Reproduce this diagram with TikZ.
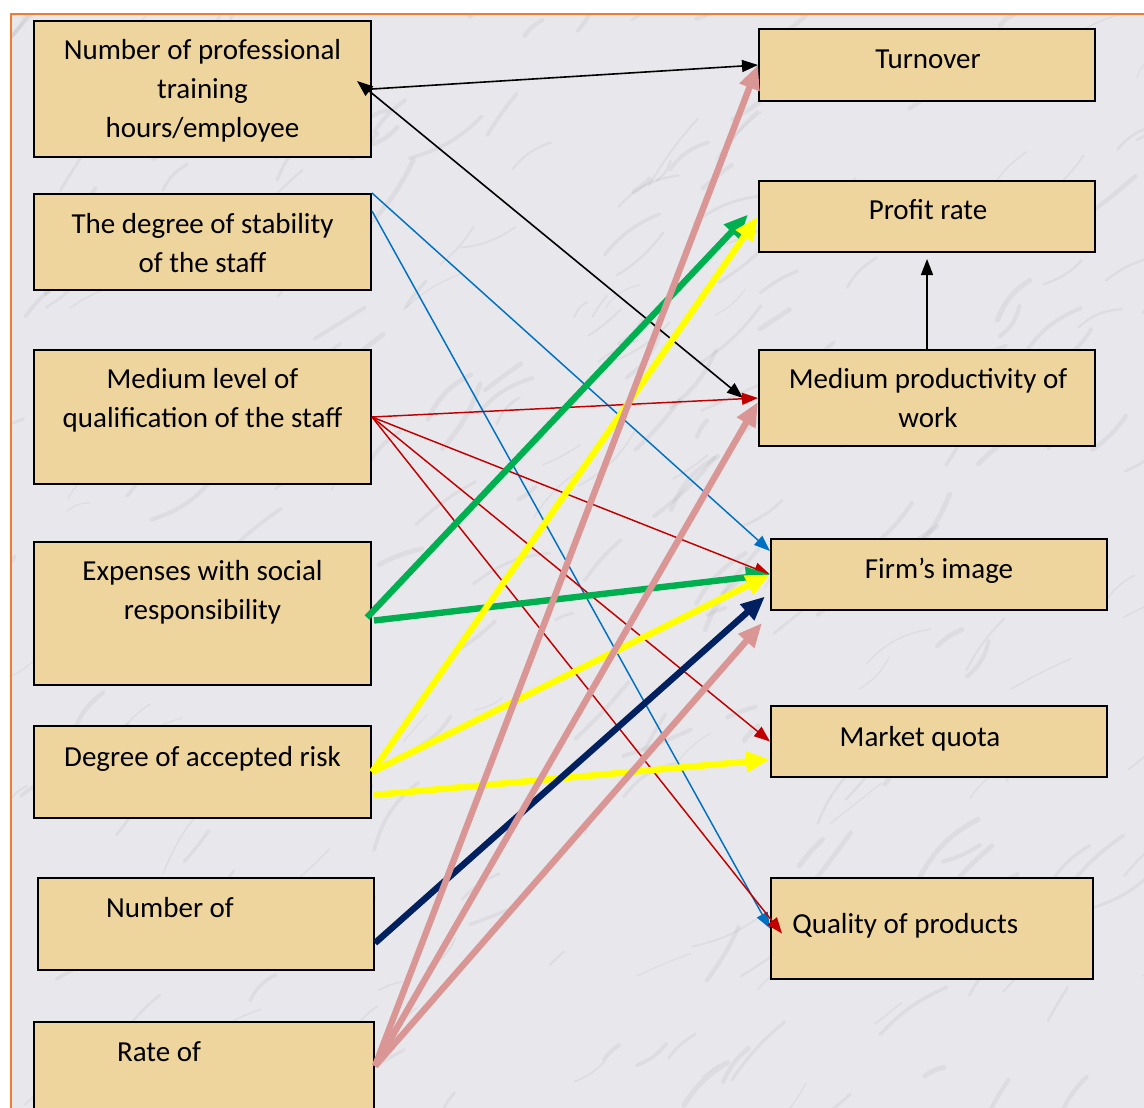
\documentclass[tikz,border=0pt]{standalone}
\usepackage{fontspec}
\setmainfont{Carlito}
\usetikzlibrary{arrows.meta,calc}
\definecolor{marble}{RGB}{232,232,236}
\definecolor{papyrus}{RGB}{238,213,157}
\definecolor{frameorange}{RGB}{237,125,49}
\definecolor{cblue}{RGB}{0,112,192}
\definecolor{cred}{RGB}{192,0,0}
\definecolor{cgreen}{RGB}{0,176,80}
\definecolor{cyellow}{RGB}{255,255,0}
\definecolor{cnavy}{RGB}{0,32,96}
\definecolor{cpink}{RGB}{217,150,148}
\tikzset{
  box/.style={draw=black, line width=1.5pt, fill=papyrus, inner sep=0pt},
  lbl/.style={font=\fontsize{21.75pt}{28.9pt}\selectfont, align=center, inner sep=0pt, anchor=base},
  conthin/.style={line width=1.1pt, -{Triangle[length=12pt,width=9pt]}},
  conthick/.style={line width=4.8pt, -{Triangle[length=18pt,width=15pt]}},
}
\begin{document}
\begin{tikzpicture}[x=0.75pt,y=-0.75pt]
\useasboundingbox (0,0) rectangle (1144,1107);
\fill[white] (0,0) rectangle (1144,1107);
\fill[marble] (11,14) rectangle (1200,1200);
\begin{scope}
  \clip (11,14) rectangle (1144,1107);
  \pgfmathsetseed{42}
  \foreach \i in {1,...,300}{
    \pgfmathsetmacro\xa{rnd*1180-20}
    \pgfmathsetmacro\ya{rnd*1140}
    \pgfmathsetmacro\ang{-20-rnd*40}
    \pgfmathsetmacro\len{15+rnd*70}
    \pgfmathsetmacro\lw{0.8+rnd*3}
    \pgfmathsetmacro\bend{rnd*40-20}
    \draw[black!60, opacity=0.08, line width=\lw pt, line cap=round] (\xa,\ya) to[bend left=\bend] ++(\ang:\len);
  }
\end{scope}
\draw[frameorange, line width=1.6pt] (11,1200) -- (11,14) -- (1200,14);

% left boxes
\node[box, minimum width=252.75pt, minimum height=102pt] (b1) at (202.5,89) {};
\node[box, minimum width=252.75pt, minimum height=72pt] (b2) at (202.5,242) {};
\node[box, minimum width=252.75pt, minimum height=100.5pt] (b3) at (202.5,417) {};
\node[box, minimum width=252.75pt, minimum height=107.25pt] (b4) at (202.5,613.5) {};
\node[box, minimum width=252.75pt, minimum height=69pt] (b5) at (202.5,772) {};
\node[box, minimum width=252pt, minimum height=69pt] (b6) at (206,924) {};
\node[box, minimum width=255pt, minimum height=105pt] (b7) at (204,1092) {};
% right boxes
\node[box, minimum width=252pt, minimum height=54pt] (tn) at (927,65) {};
\node[box, minimum width=252pt, minimum height=53.25pt] (pr) at (927,216.5) {};
\node[box, minimum width=252pt, minimum height=72pt] (mp) at (927,398) {};
\node[box, minimum width=252pt, minimum height=53.25pt] (fi) at (939,574.5) {};
\node[box, minimum width=252pt, minimum height=53.25pt] (mq) at (939,741.5) {};
\node[box, minimum width=241.5pt, minimum height=75.75pt] (qp) at (932,928.5) {};

% labels (base = baseline of last line)
\node[lbl] (t1) at (202.5,137) {Number of professional\\training\\hours/employee};
\node[lbl] (t2) at (202.5,272) {The degree of stability\\of the staff};
\node[lbl] (t3) at (202.5,427) {Medium level of\\qualification of the staff};
\node[lbl] (t4) at (202.5,619) {Expenses with social\\responsibility};
\node[lbl] (t5) at (202.5,766) {Degree of accepted risk};
\node[lbl] (t6) at (170,917) {Number of};
\node[lbl] (t7) at (159,1061) {Rate of};
\node[lbl] (tt) at (928,68) {Turnover};
\node[lbl] (tp) at (928,219) {Profit rate};
\node[lbl] (tm) at (928,427) {Medium productivity of\\work};
\node[lbl] (tf) at (939,578) {Firm’s image};
\node[lbl] (tq) at (920,746) {Market quota};
\node[lbl, anchor=base west] (tqp) at (792,933) {Quality of products};

% black
\draw[line width=1.2pt, -{Triangle[length=12pt,width=9pt]}] (b1.east) -- (tn.west);
\draw[line width=1.2pt, {Triangle[length=12pt,width=9pt]}-{Triangle[length=12pt,width=9pt]}] ($(b1.east)+(-15,-8)$) -- ($(mp.west)+(-15,0)$);
\draw[line width=1.2pt, -{Triangle[length=12pt,width=9pt]}, shorten >=4.5pt] (mp.north) -- (pr.south);
% blue
\draw[conthin, cblue] (b2.north east) -- ($(fi.north west)+(0,13)$);
\draw[conthin, cblue] ($(b2.north east)+(0,18)$) -- (qp.west);
% red
\draw[conthin, cred] (b3.east) -- (mp.west);
\draw[conthin, cred] (b3.east) -- (fi.west);
\draw[conthin, cred] (b3.east) -- (mq.west);
\draw[conthin, cred] (b3.east) -- ($(qp.west)+(12,5)$);
% green
\draw[conthick, cgreen] ($(b4.east)+(-5,4)$) -- ($(pr.west)+(-10,-2)$);
\draw[conthick, cgreen] ($(b4.east)+(2,7)$) -- (fi.west);
% yellow
\draw[conthick, cyellow] (b5.east) -- (pr.west);
\draw[conthick, cyellow] (b5.east) -- (fi.west);
\draw[conthick, cyellow] ($(b5.east)+(2,23)$) -- ($(mq.west)+(0,18)$);
% navy
\draw[conthick, cnavy] ($(b6.east)+(0,19)$) -- ($(fi.west)+(-5,22)$);
% pink
\coordinate (p0) at ($(b7.north east)+(0,45)$);
\draw[conthick, cpink] (p0) -- (tn.west);
\draw[conthick, cpink] (p0) -- ($(mp.west)+(0,4)$);
\draw[conthick, cpink] (p0) -- ($(fi.south west)+(-8,12)$);
\end{tikzpicture}
\end{document}
